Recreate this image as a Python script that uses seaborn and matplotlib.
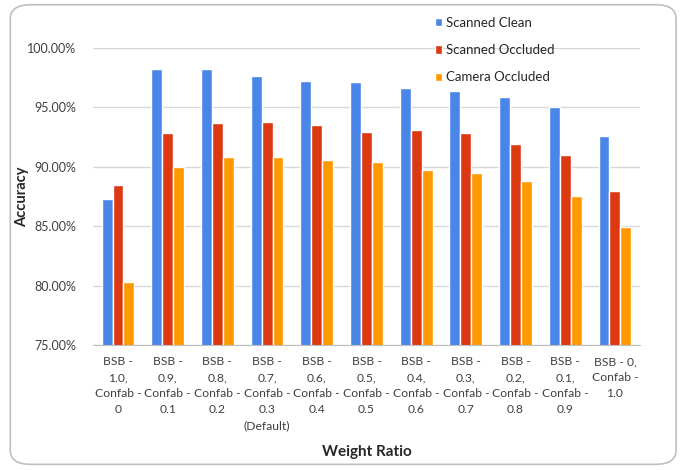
import matplotlib
matplotlib.use("Agg")
import matplotlib.pyplot as plt
import seaborn as sns
import pandas as pd
from matplotlib.patches import FancyBboxPatch
from matplotlib.ticker import FuncFormatter, FixedLocator

# data (accuracy, %)
ratios = ["BSB -\n1.0,\nConfab -\n0", "BSB -\n0.9,\nConfab -\n0.1", "BSB -\n0.8,\nConfab -\n0.2",
          "BSB -\n0.7,\nConfab -\n0.3\n(Default)", "BSB -\n0.6,\nConfab -\n0.4", "BSB -\n0.5,\nConfab -\n0.5",
          "BSB -\n0.4,\nConfab -\n0.6", "BSB -\n0.3,\nConfab -\n0.7", "BSB -\n0.2,\nConfab -\n0.8",
          "BSB -\n0.1,\nConfab -\n0.9", "BSB - 0,\nConfab -\n1.0"]
series = ["Scanned Clean", "Scanned Occluded", "Camera Occluded"]
scanned_clean = [87.3, 98.25, 98.25, 97.6, 97.2, 97.1, 96.6, 96.35, 95.9, 95.05, 92.6]
scanned_occluded = [88.45, 92.85, 93.65, 93.8, 93.55, 92.95, 93.1, 92.8, 91.95, 91.0, 87.95]
camera_occluded = [80.3, 90.0, 90.85, 90.85, 90.55, 90.4, 89.75, 89.5, 88.8, 87.5, 84.95]
colors = ["#4A86E8", "#DC3912", "#FF9900"]

df = pd.DataFrame({
    "ratio": ratios * 3,
    "acc": scanned_clean + scanned_occluded + camera_occluded,
    "series": [s for s in series for _ in ratios],
})

sns.set_style("white")
plt.rcParams["font.family"] = ["Lato", "DejaVu Sans"]

fig = plt.figure(figsize=(6.85, 4.70), dpi=100)
ax = fig.add_axes([0.136, 0.266, 0.798, 0.632])

sns.barplot(data=df, x="ratio", y="acc", hue="series", palette=colors,
            saturation=1, width=0.66, ax=ax, errorbar=None, zorder=3)

ax.set_ylim(75, 100)
ax.set_yticks([75, 80, 85, 90, 95, 100])
ax.yaxis.set_major_formatter(FuncFormatter(lambda v, p: f"{v:.2f}%"))
ax.grid(axis="y", color="#D9D9D9", linewidth=1, zorder=0)
ax.set_axisbelow(True)
ax.set_xlim(-0.5, len(ratios) - 0.5)

for s in ["top", "right", "left"]:
    ax.spines[s].set_visible(False)
ax.spines["bottom"].set_color("#BFBFBF")
ax.spines["bottom"].set_zorder(4)

ax.tick_params(axis="y", length=0, labelsize=9, labelcolor="#404040", pad=12)
ax.tick_params(axis="x", which="major", length=0, labelsize=8.7, labelcolor="#404040", pad=8)
ax.xaxis.set_minor_locator(FixedLocator([i - 0.5 for i in range(len(ratios) + 1)]))
ax.tick_params(axis="x", which="minor", length=5, color="#BFBFBF", width=1)
for t in ax.get_xticklabels():
    t.set_linespacing(1.55)

ax.set_xlabel("Weight Ratio", fontsize=11, fontweight="bold", labelpad=10)
ax.set_ylabel("Accuracy", fontsize=10.5, fontweight="bold")
ax.yaxis.set_label_coords(-0.118, 0.5)

ax.legend(loc="upper left", bbox_to_anchor=(0.617, 0.99), bbox_transform=fig.transFigure,
          frameon=False, fontsize=9.5, handlelength=0.6, handleheight=0.6,
          handletextpad=0.3, labelspacing=1.17)

fig.patches.append(FancyBboxPatch((0.015, 0.012), 0.972, 0.978,
                                  boxstyle="round,pad=0,rounding_size=0.03",
                                  transform=fig.transFigure, fill=False,
                                  edgecolor="#BFBFBF", linewidth=1.2))

fig.savefig("out.png", dpi=100)
